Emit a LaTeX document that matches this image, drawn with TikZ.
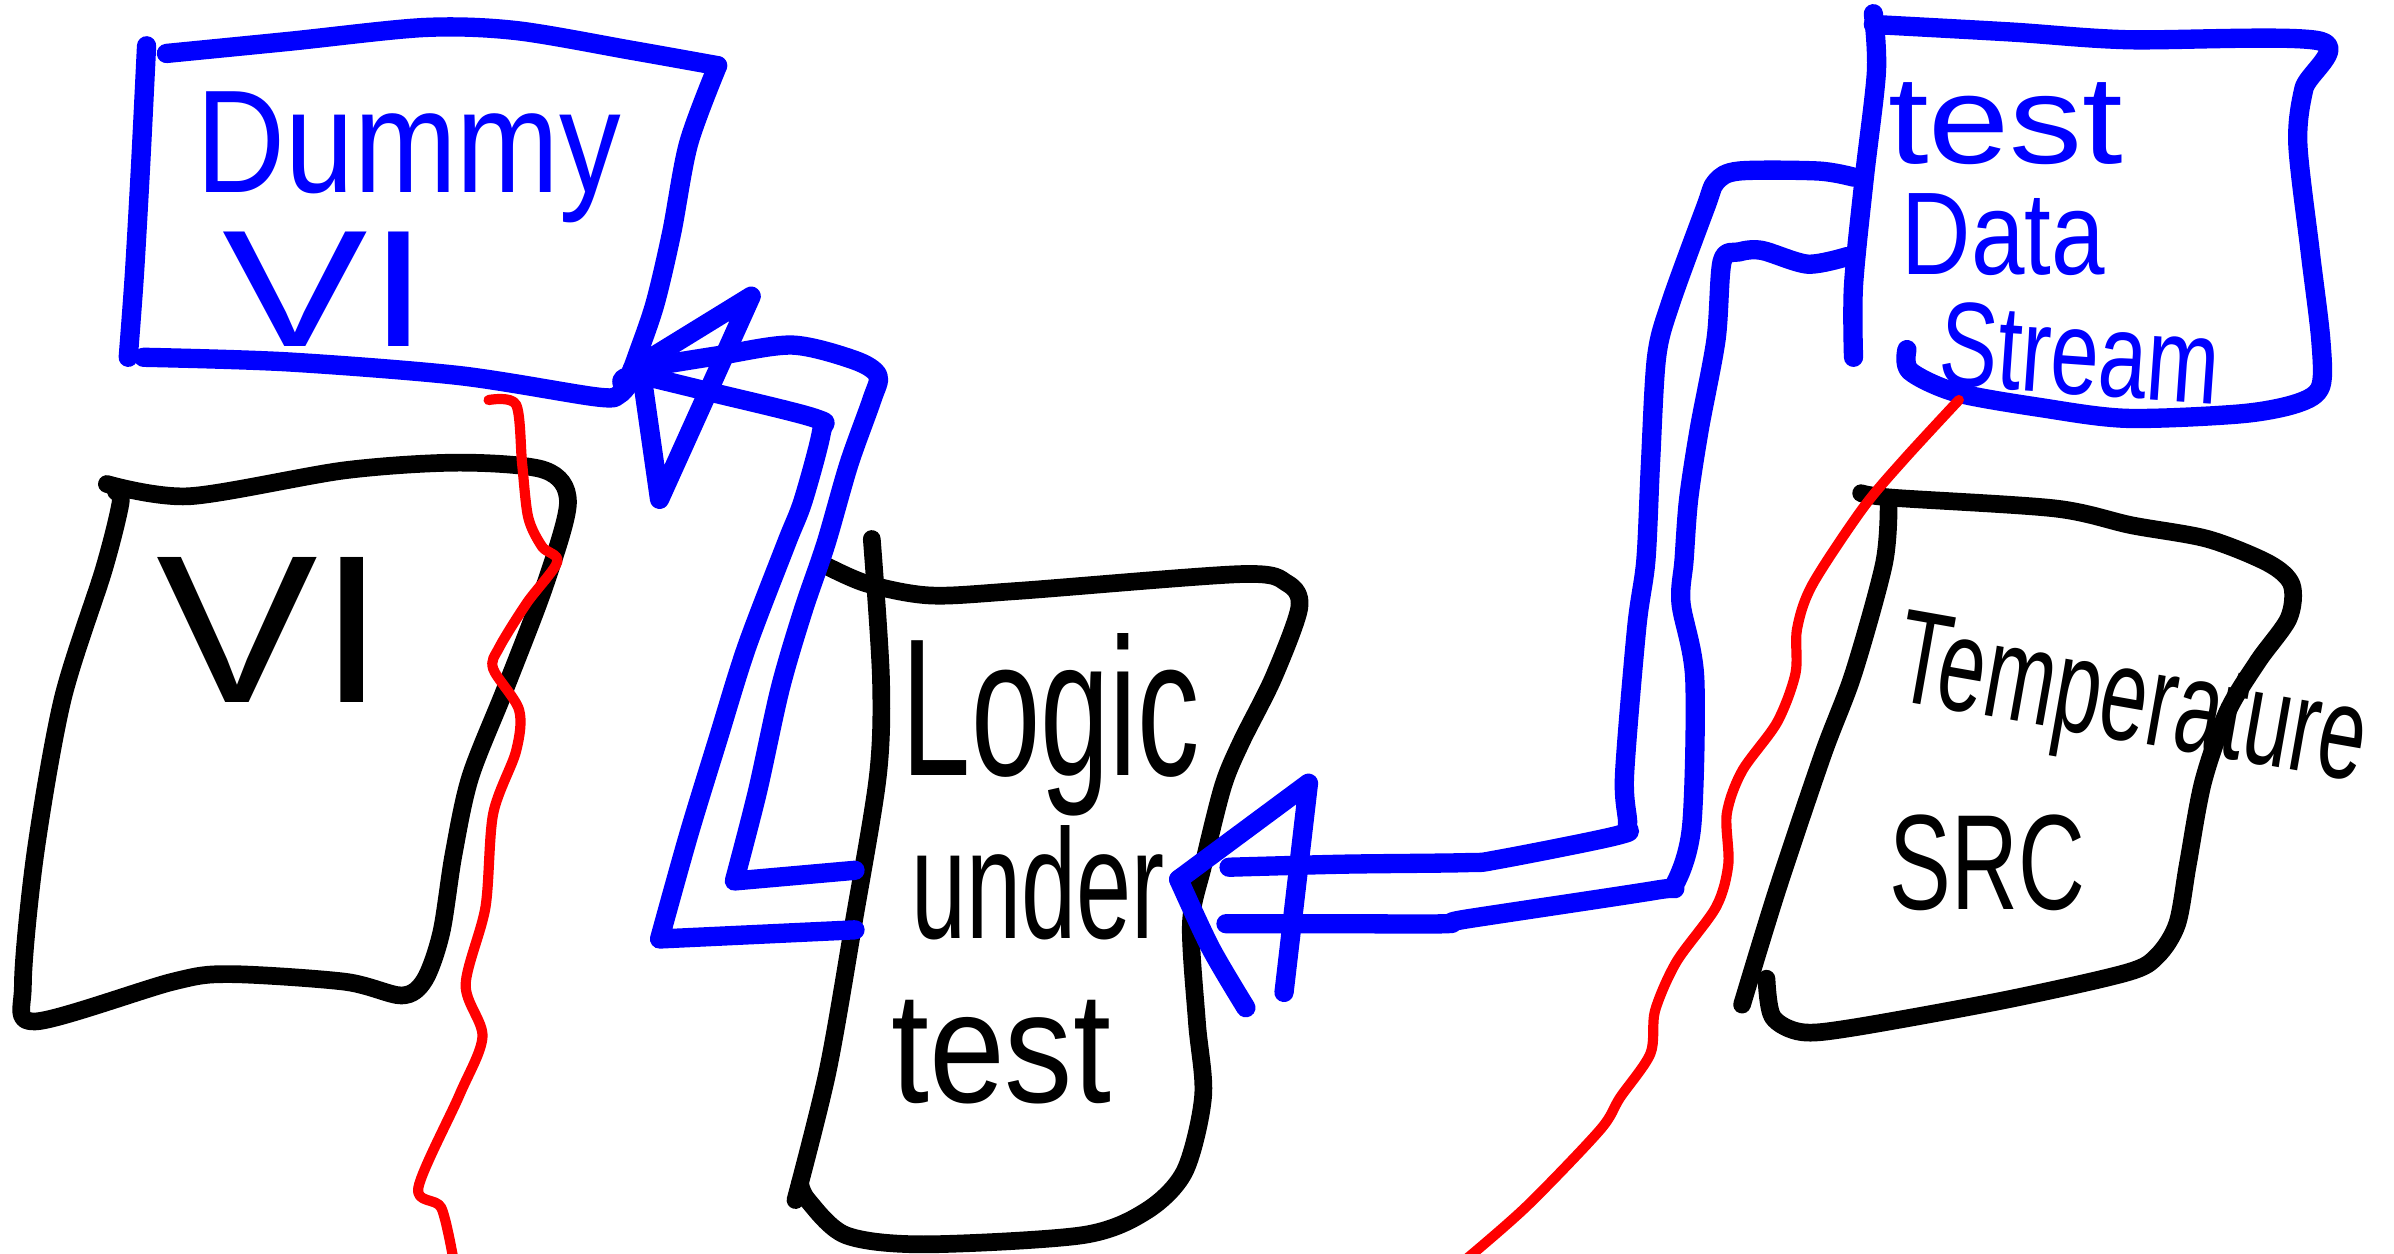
\documentclass[tikz,border=0pt]{standalone}
\usepackage{fontspec}
\setmainfont{Liberation Sans}
\usepackage{graphicx}
\setlength{\unitlength}{0.1mm}
\newcommand{\hw}[3]{\resizebox{#1\unitlength}{#2\unitlength}{#3}}
\tikzset{
  bl/.style={draw={rgb,255:red,0;green,0;blue,255}, line width=3.6pt, line cap=round, line join=round},
  bk/.style={draw=black, line width=3.3pt, line cap=round, line join=round},
  rd/.style={draw={rgb,255:red,255;green,0;blue,0}, line width=1.9pt, line cap=round, line join=round},
  lbl/.style={inner sep=0pt, anchor=base west},
  sm/.style={smooth, tension=0.5}
}
\begin{document}
\begin{tikzpicture}[x=0.1mm,y=-0.1mm]
\useasboundingbox (0,0) rectangle (1568,821);
\definecolor{pb}{RGB}{0,0,255}
% ---------- Dummy VI box (blue)
\draw[bl] plot[sm] coordinates {(96,30) (92,110) (88,180) (84,234)};
\draw[bl] plot[sm] coordinates {(109,35) (190,27) (278,18) (338,20) (414,33) (470,43)};
\draw[bl] plot[sm] coordinates {(470,43) (451,94) (440,152) (429,199) (417,234) (410,253)};
\draw[bl] plot[sm] coordinates {(94,234) (188,237) (301,246) (391,260) (406,258) (414,248)};
\fill[pb] (410,250) circle (9);
\node[lbl,text=pb] (dummy) at (128,126) {\hw{278}{66}{Dummy}};
\node[lbl,text=pb] (dvi) at (145,227) {\hw{135}{75}{VI}};
\coordinate (dtip) at (414,242);
% arrowhead at Dummy VI
\draw[bl] (dtip) -- (492,194) -- (432,327) -- (421,250);
% ---------- VI box (black)
\draw[bk] plot[sm] coordinates {(70,317) (124,325) (226,308) (301,303) (357,308) (372,329) (357,383) (331,451) (308,509) (297,560) (289,611) (278,642) (263,652) (226,643) (150,638) (113,643) (23,669) (15,645) (23,560) (41,458) (68,373) (79,329) (76,322)};
\node[lbl] (vi) at (102,460) {\hw{150}{95}{VI}};
% ---------- Logic under test box (black)
\draw[bk] plot[sm] coordinates {(571,353) (577,444) (575,508) (559,605) (542,702) (521,786)};
\draw[bk] plot[sm] coordinates {(538,369) (567,382) (609,390) (667,387) (813,376) (843,382) (851,398) (834,444) (813,486) (801,515) (788,567) (780,605) (784,670) (788,718) (776,767) (751,793) (709,809) (605,815) (554,809) (529,786) (524,775)};
\node[lbl] (logic) at (590,508) {\hw{195}{93}{Logic}};
\node[lbl] (under) at (596,615) {\hw{166}{74}{under}};
\node[lbl] (ltest) at (583,722) {\hw{144}{67}{test}};
\coordinate (la) at (560,570);
\coordinate (lb) at (560,609);
\coordinate (ltip) at (772,576);
% routes from Logic to Dummy VI
\draw[bl] plot[sm] coordinates {(dtip) (470,233) (519,226) (560,236) (575,246) (571,262) (556,304) (541,356) (526,400) (511,451) (496,519) (481,577)} -- (la);
\draw[bl] plot[sm] coordinates {(421,246) (462,256) (534,274) (538,283) (526,328) (515,356) (489,424) (470,485) (451,547) (432,615)} -- (lb);
% arrowhead at Logic
\draw[bl] (ltip) -- (857,513) -- (841,650);
\draw[bl] plot[sm] coordinates {(ltip) (793,621) (816,660)};
% ---------- Test Data Stream box (blue)
\draw[bl] plot[sm] coordinates {(1227,9) (1229,47) (1221,117) (1214,187) (1214,234)};
\draw[bl] plot[sm] coordinates {(1227,16) (1318,21) (1393,26) (1520,27) (1509,58) (1505,94) (1513,164) (1520,222) (1520,253) (1505,264) (1468,271) (1393,274) (1337,267) (1281,257) (1251,243) (1249,229)};
\node[lbl,text=pb] (ttest) at (1236,107) {\hw{154}{53}{test}};
\node[lbl,text=pb] (tdata) at (1245,180) {\hw{133}{53}{Data}};
\node[lbl,text=pb,rotate=-4] (tstream) at (1268,252) {\hw{184}{55}{Stream}};
\coordinate (tc) at (1214,116);
\coordinate (td) at (1210,168);
% routes from Test Data Stream to Logic
\draw[bl] plot[sm] coordinates {(tc) (1191,112) (1139,112) (1124,119) (1117,136) (1094,199) (1085,234) (1081,304) (1078,367) (1072,411) (1064,508) (1066,540) (1060,547) (981,563) (960,565) (880,566) (805,568)};
\draw[bl] plot[sm] coordinates {(td) (1184,173) (1154,164) (1139,165) (1128,171) (1124,222) (1113,281) (1106,327) (1103,367) (1101,395) (1110,444) (1108,541) (1097,579) (1085,583) (960,602) (947,605) (880,605) (803,605)};
% ---------- Temperature SRC box (black)
\draw[bk] plot[sm] coordinates {(1219,323) (1240,326) (1346,333) (1396,344) (1446,353) (1486,369) (1501,383) (1499,405) (1479,433) (1459,466) (1443,512) (1433,566) (1426,605) (1413,626) (1393,637) (1313,655) (1214,673) (1180,676) (1161,666) (1157,641)};
\draw[bk] plot[sm] coordinates {(1237,330) (1234,369) (1214,441) (1194,494) (1164,583) (1141,658)};
\node[lbl,rotate=-10] (temp) at (1238,458) {\hw{311}{60}{Temperature}};
\node[lbl] (src) at (1237,596) {\hw{128}{62}{SRC}};
% ---------- red lines
\draw[rd] plot[sm] coordinates {(320,262) (338,265) (342,304) (346,339) (355,358) (365,368) (345,395) (327,424) (323,438) (340,465) (338,492) (323,533) (318,594) (305,645) (316,679) (301,717) (274,778) (289,791) (297,825)};
\draw[rd] plot[sm] coordinates {(1283,262) (1247,301) (1220,333) (1187,383) (1177,412) (1176,441) (1164,473) (1141,505) (1131,533) (1132,566) (1124,594) (1098,630) (1084,662) (1081,690) (1061,719) (1048,740) (1000,790) (960,825)};
\end{tikzpicture}
\end{document}
